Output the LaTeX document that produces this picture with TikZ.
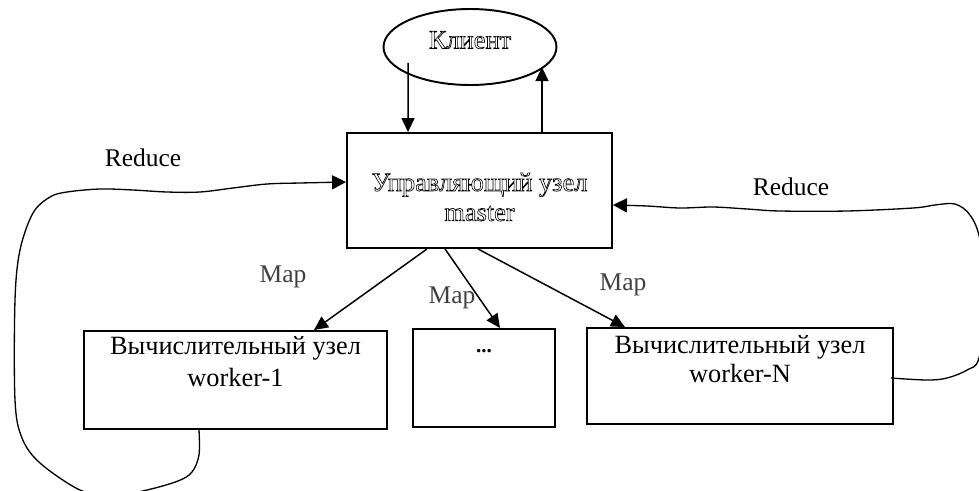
\documentclass[tikz,border=0pt]{standalone}
\usepackage{fontspec}
\setmainfont{Liberation Serif}
\usetikzlibrary{positioning,shapes.geometric,arrows.meta}

\definecolor{mapgray}{HTML}{404040}
% контурный текст (как в исходной схеме)
\newcommand{\kontur}[1]{\special{pdf:code q 1 Tr 0.35 w}#1\special{pdf:code Q}}

\tikzset{
  uzel/.style={draw,line width=1.1pt,inner sep=0pt},
  strel/.style={line width=0.85pt,-{Triangle[length=0.28cm,width=0.26cm]}},
  reduce/.style={line width=0.75pt,-{Triangle[length=0.28cm,width=0.28cm]}},
  podpis/.style={font=\fontsize{15}{16}\selectfont,align=center,inner sep=0pt},
  metka/.style={font=\fontsize{14.5}{16}\selectfont,inner sep=0pt},
}

\begin{document}
\begin{tikzpicture}[x=0.02cm,y=-0.02cm]
\useasboundingbox (0,0) rectangle (979,490);

% клиент и управляющий узел
\node[uzel,ellipse,minimum width=3.46cm,minimum height=1.52cm] (klient) at (470,47) {};
\node[podpis] (klienttxt) at (470,40) {\kontur{Клиент}};
\node[uzel,minimum width=5.3cm,minimum height=2.3cm] (master) at (479.5,190.5) {};
\node[podpis] (mastertxt) at (479.5,197) {\kontur{Управляющий узел}\\[1pt]\kontur{master}};

% вычислительные узлы
\node[uzel,minimum width=6.06cm,minimum height=1.96cm] (w1) at (235.5,380) {};
\node[uzel,minimum width=2.84cm,minimum height=1.96cm] (wmid) at (484,378) {};
\node[uzel,minimum width=6.12cm,minimum height=1.92cm] (wN) at (740,376) {};
\node[podpis,below=0.12cm of w1.north] (w1txt) {Вычислительный узел\\[2pt]worker-1};
\node[podpis,font=\fontsize{12}{14}\selectfont\bfseries,below=0.42cm of wmid.north] (wmidtxt) {...};
\node[podpis,below=0.17cm of wN.north] (wNtxt) {Вычислительный узел\\worker-N};

% запрос и ответ клиента
\draw[strel] ([xshift=-1.24cm,yshift=-0.32cm]klient.center) -- ([xshift=-1.43cm]master.north);
\draw[strel] ([xshift=1.25cm]master.north) -- ([xshift=1.25cm]master.north |- klient.-15);

% Map: раздача заданий
\draw[strel] ([xshift=-1.05cm]master.south) -- ([xshift=1.57cm]w1.north);
\draw[strel] ([xshift=-0.69cm]master.south) -- ([xshift=0.32cm]wmid.north);
\draw[strel] ([xshift=-0.03cm]master.south) -- ([xshift=-2.3cm]wN.north);
\foreach \x/\y in {283/277,452/298,623/285}
    \node[metka,text=mapgray] at (\x,\y) {Map};

% Reduce: сбор результатов
\coordinate (r1start) at ([xshift=-0.73cm]w1.south);
\coordinate (r1end) at ([yshift=0.17cm]master.west);
\coordinate (r2start) at ([xshift=-0.06cm,yshift=-0.04cm]wN.east);
\coordinate (r2end) at ([yshift=-0.29cm]master.east);
\draw[reduce] plot[smooth,tension=0.55] coordinates {(r1start) (199,455) (192,472) (178,481) (147,490) (113,496)
    (80,490) (40,463) (22,438) (15,400) (15,300) (20,250) (33,213) (50,197) (67,192) (100,189) (133,190)
    (167,192) (200,192) (233,188) (267,184) (300,183) (r1end)};
\draw[reduce] plot[smooth,tension=0.55] coordinates {(r2start) (927,380) (947,378) (967,370) (979,358) (986,300)
    (980,240) (970,215) (955,204) (935,205) (913,208) (847,211) (780,211) (747,209) (713,207)
    (680,208) (647,206) (r2end)};
\node[metka] (red1) at (143,158) {Reduce};
\node[metka] (red2) at (791,187) {Reduce};
\end{tikzpicture}
\end{document}
